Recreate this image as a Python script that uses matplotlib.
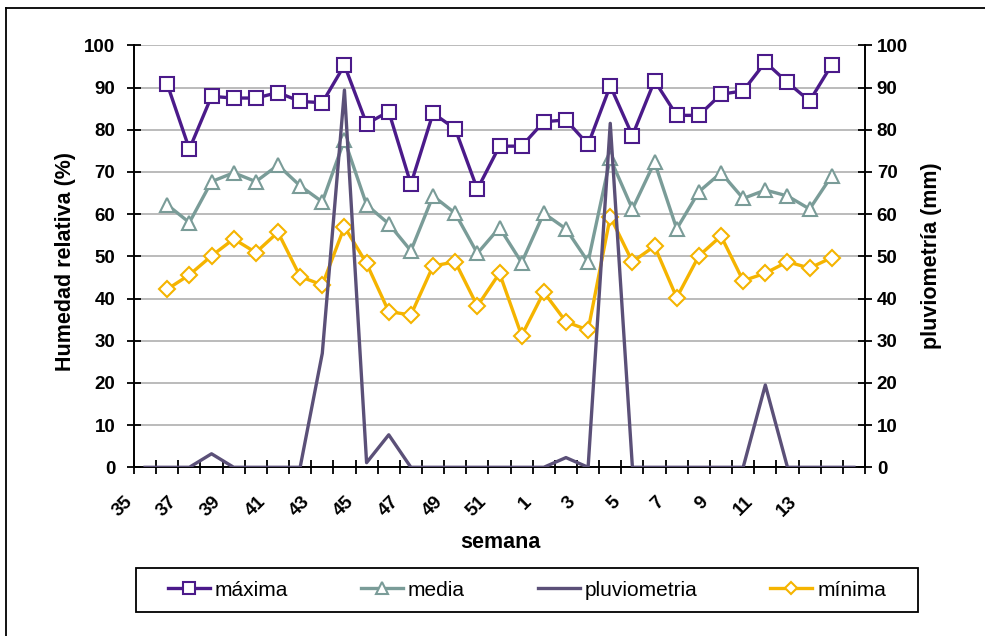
import numpy as np
import matplotlib
matplotlib.use('Agg')
import matplotlib.pyplot as plt
from matplotlib.lines import Line2D
from matplotlib.patches import Rectangle
from matplotlib.transforms import ScaledTranslation

plt.rcParams['font.family'] = ['Liberation Sans', 'DejaVu Sans']

nan = np.nan

# semanas del año (de la 35 a la 15 del año siguiente)
semanas = list(range(35, 53)) + list(range(1, 16))

maxima = [nan, 90.8, 75.4, 87.9, 87.5, 87.5, 88.8, 86.7, 86.4, 95.3, 81.4,
          84.3, 67.1, 83.9, 80.2, 65.9, 76.1, 76.1, 81.9, 82.3, 76.5, 90.4,
          78.6, 91.6, 83.4, 83.4, 88.4, 89.2, 96.0, 91.2, 86.8, 95.4, nan]
media = [nan, 62.2, 58.0, 67.7, 69.8, 67.7, 71.6, 66.7, 62.9, 77.6, 62.2,
         57.7, 51.3, 64.3, 60.2, 50.7, 56.8, 48.5, 60.2, 56.5, 48.7, 73.2,
         61.2, 72.3, 56.5, 65.3, 69.8, 63.7, 65.7, 64.3, 61.2, 69.1, nan]
minima = [nan, 42.2, 45.6, 50.1, 54.1, 50.9, 55.7, 45.2, 43.2, 57.0, 48.3,
          36.9, 36.1, 47.7, 48.7, 38.2, 46.0, 31.2, 41.5, 34.5, 32.5, 59.4,
          48.7, 52.4, 40.2, 50.1, 54.8, 44.2, 46.0, 48.7, 47.2, 49.7, nan]
pluviometria = [0, 0, 0, 3.2, 0, 0, 0, 0, 27.0, 89.4, 1.1, 7.7, 0, 0, 0, 0, 0,
                0, 0, 2.3, 0, 81.5, 0, 0, 0, 0, 0, 0, 19.5, 0, 0, 0, 0]

C_MAX = '#4b1a8a'
C_MED = '#7a9c98'
C_PLU = '#5b5078'
C_MIN = '#f5b400'

W, H = 985, 636
fig = plt.figure(figsize=(W / 100, H / 100), dpi=100)
ax = fig.add_axes([134 / W, 1 - 467.3 / H, (865 - 134) / W, (467.3 - 45.3) / H])
ax2 = ax.twinx()

x = np.arange(len(semanas))
lw = 2.4
h1, = ax.plot(x, maxima, color=C_MAX, lw=lw, marker='s', ms=10,
              mfc='white', mec=C_MAX, mew=1.5, label='máxima', zorder=4)
h2, = ax.plot(x, media, color=C_MED, lw=lw, marker='^', ms=10.5,
              mfc='white', mec=C_MED, mew=1.5, label='media', zorder=3)
h4, = ax.plot(x, minima, color=C_MIN, lw=lw, marker='D', ms=8,
              mfc='white', mec=C_MIN, mew=1.5, label='mínima', zorder=3)
h3, = ax2.plot(x, pluviometria, color=C_PLU, lw=lw, label='pluviometria')

for a in (ax, ax2):
    a.set_xlim(-0.5, len(semanas) - 0.5)
    a.set_ylim(0, 100)
    a.set_yticks(np.arange(0, 101, 10))
    for s in a.spines.values():
        s.set_visible(False)

ax.yaxis.grid(True, color='#a8a8a8', lw=1.1)
ax.set_axisbelow(True)
ax.spines['left'].set_visible(True)
ax.spines['bottom'].set_visible(True)
ax2.spines['right'].set_visible(True)
for s in (ax.spines['left'], ax.spines['bottom'], ax2.spines['right']):
    s.set_linewidth(1.4)
    s.set_color('black')

# ticks en los bordes de cada semana, etiqueta cada dos semanas
bordes = np.arange(len(semanas) + 1) - 0.5
etiquetas = [str(semanas[i]) if i % 2 == 0 and i <= 30 else '' for i in range(len(bordes))]
ax.set_xticks(bordes)
ax.set_xticklabels(etiquetas, fontsize=13.5, fontweight='bold')
ax.tick_params(axis='x', direction='inout', length=10, width=1.3, pad=18)
shift = ScaledTranslation(-0.04, 0, fig.dpi_scale_trans)
for lab in ax.get_xticklabels():
    lab.set_rotation(45)
    lab.set_ha('right')
    lab.set_va('center')
    lab.set_rotation_mode('anchor')
    lab.set_transform(lab.get_transform() + shift)

ax.tick_params(axis='y', direction='inout', length=10, width=1.3, pad=8.5,
               labelsize=13.5)
ax2.tick_params(axis='y', direction='inout', length=10, width=1.3, pad=3.5,
                labelsize=13.5)
for lab in ax.get_yticklabels() + ax2.get_yticklabels():
    lab.set_fontweight('bold')

fig.text(65 / W, 1 - 261 / H, 'Humedad relativa (%)', rotation=90,
         ha='center', va='center', fontsize=15.5, fontweight='bold')
fig.text(931 / W, 1 - 256 / H, 'pluviometría (mm)', rotation=90,
         ha='center', va='center', fontsize=15.5, fontweight='bold')
fig.text(500 / W, 1 - 543 / H, 'semana', ha='center', va='center',
         fontsize=15.5, fontweight='bold')

# leyenda sin marco propio, con un recuadro dibujado aparte
fig.legend([h1, h2, h3, h4], ['máxima', 'media', 'pluviometria', 'mínima'],
           loc='center', bbox_to_anchor=(527 / W, 1 - 590 / H),
           ncol=4, fontsize=15, handlelength=2.0, handletextpad=0.25,
           columnspacing=3.5, markerscale=0.8, frameon=False)
fig.add_artist(Rectangle((136 / W, 1 - 612 / H), 782 / W, 44 / H,
                         transform=fig.transFigure, fill=False,
                         edgecolor='black', lw=1.3))

# marco del gráfico
fig.add_artist(Line2D([6 / W, 6 / W], [0, 1 - 8 / H], transform=fig.transFigure,
                      color='black', lw=1.3))
fig.add_artist(Line2D([6 / W, 1], [1 - 8 / H, 1 - 8 / H], transform=fig.transFigure,
                      color='black', lw=1.3))

fig.savefig('out.png', dpi=100)
